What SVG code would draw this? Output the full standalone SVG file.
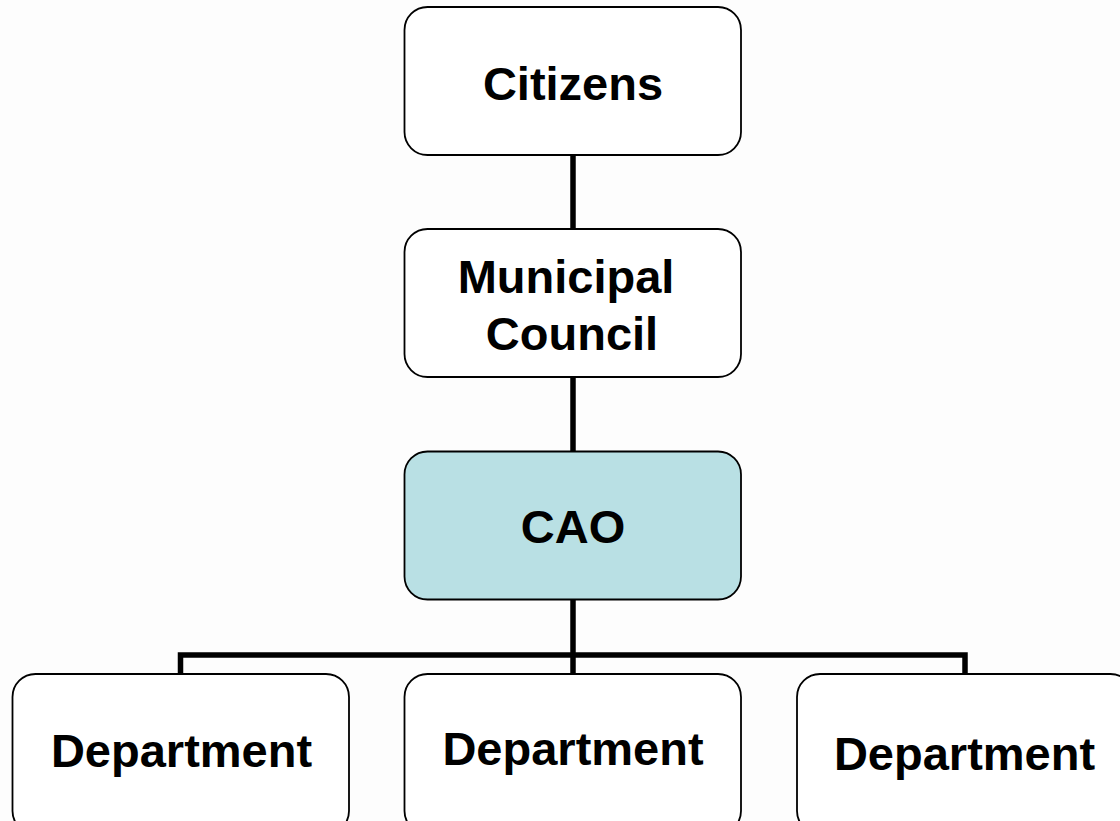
<svg xmlns="http://www.w3.org/2000/svg" width="1120" height="821" viewBox="0 0 1120 821">
<style>
.box{fill:#ffffff;stroke:#000;stroke-width:1.8}
.cao{fill:#b9e0e4}
.lbl{font-family:"Liberation Sans",Arial,sans-serif;font-weight:bold;font-size:47px;fill:#000;text-anchor:middle}
.con{stroke:#000;stroke-width:5.5;fill:none}
</style>
<rect width="1120" height="821" fill="#fdfdfd"/>
<g id="connectors">
<line class="con" x1="573" y1="155" x2="573" y2="229"/>
<line class="con" x1="573" y1="377" x2="573" y2="451"/>
<line class="con" x1="573" y1="599" x2="573" y2="674"/>
<polyline class="con" points="180.5,674 180.5,655 965,655 965,674"/>
</g>
<g id="citizens">
<rect class="box" x="404.5" y="7" width="336.5" height="148" rx="23"/>
<text class="lbl" x="573" y="100">Citizens</text>
</g>
<g id="council">
<rect class="box" x="404.5" y="229" width="336.5" height="148" rx="23"/>
<text class="lbl" x="566" y="293">Municipal</text>
<text class="lbl" x="572" y="350">Council</text>
</g>
<g id="cao">
<rect class="box cao" x="404.5" y="451.5" width="336.5" height="148" rx="23"/>
<text class="lbl" x="573" y="543">CAO</text>
</g>
<g id="dept1">
<rect class="box" x="12.5" y="674" width="336.5" height="160" rx="23"/>
<text class="lbl" x="181.5" y="767">Department</text>
</g>
<g id="dept2">
<rect class="box" x="404.5" y="674" width="336.5" height="160" rx="23"/>
<text class="lbl" x="573" y="765">Department</text>
</g>
<g id="dept3">
<rect class="box" x="797" y="674" width="336.5" height="160" rx="23"/>
<text class="lbl" x="964.5" y="770">Department</text>
</g>
</svg>
